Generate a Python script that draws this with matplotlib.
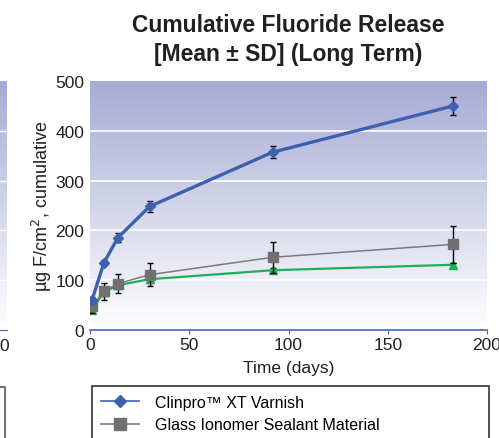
import matplotlib.pyplot as plt
import matplotlib.patches as mpatches
from matplotlib.lines import Line2D
import numpy as np

# data
days = [1, 7, 14, 30, 92, 183]
clinpro = [60, 135, 185, 248, 357, 450]
clinpro_sd = [6, 5, 9, 12, 12, 18]
glass = [48, 78, 93, 111, 146, 172]
glass_sd = [14, 17, 19, 23, 31, 37]
resin = [40, 76, 90, 102, 120, 131]
resin_sd = [5, 8, 6, 8, 5, 4]

series_labels = ["Clinpro\u2122 XT Varnish", "Glass Ionomer Sealant Material"]
title_lines = ["Cumulative Fluoride Release", "[Mean \u00b1 SD] (Long Term)"]

W, H = 499, 439
plt.rcParams['font.family'] = ["Liberation Sans", "DejaVu Sans"]
TXT = '#231f20'

fig = plt.figure(figsize=(W / 100, H / 100), dpi=100)


def px(x0, y0, x1, y1):
    # pixel box -> figure fraction rect
    return [x0 / W, 1 - y1 / H, (x1 - x0) / W, (y1 - y0) / H]


def gradient(ax):
    top = np.array([166, 171, 212]) / 255
    bot = np.array([255, 255, 255]) / 255
    t = np.linspace(0, 1, 256)[:, None]
    img = top * (1 - t[..., None]) + bot * t[..., None]
    img = np.repeat(img, 2, axis=1)
    ax.imshow(img, extent=[0, 1, 0, 1], transform=ax.transAxes,
              aspect='auto', zorder=0)


# partial neighbouring chart on the far left
axl = fig.add_axes(px(-60, 82, 7, 331))
gradient(axl)
axl.set_xlim(0, 1)
axl.set_ylim(0, 500)
for v in [100, 200, 300, 400]:
    axl.axhline(v, color='white', lw=1, zorder=1)
for s in ['top', 'right', 'left']:
    axl.spines[s].set_visible(False)
axl.spines['bottom'].set_color('#4a66b3')
axl.set_xticks([])
axl.set_yticks([])
fig.text(4.5 / W, 1 - 347 / H, "0", ha='center', va='center', fontsize=12.5,
         color=TXT)
fig.add_artist(mpatches.Rectangle((-20 / W, -0.1), 25 / W, 0.1 + (H - 388) / H,
                                  transform=fig.transFigure, fill=False,
                                  edgecolor='#555555', lw=1.2))

# main chart
ax = fig.add_axes(px(90, 82, 487, 331))
gradient(ax)
ax.set_xlim(0, 200)
ax.set_ylim(0, 500)
for v in [100, 200, 300, 400]:
    ax.axhline(v, color='white', lw=1.2, zorder=1)

ax.errorbar(days, resin, yerr=resin_sd, color='#1fae5a', lw=1.6, marker='^',
            ms=6, mfc='#1fae5a', mec='#1fae5a', ecolor='black', elinewidth=1,
            capsize=2.5, zorder=3)
ax.errorbar(days, glass, yerr=glass_sd, color='#7a7a7a', lw=1.1, marker='s',
            ms=7, mfc='#707070', mec='#707070', ecolor='black', elinewidth=1,
            capsize=2.5, zorder=4)
ax.errorbar(days, clinpro, yerr=clinpro_sd, color='#3f5fb0', lw=2.4, marker='D',
            ms=5.5, mfc='#3f5fb0', mec='#3f5fb0', ecolor='black', elinewidth=1,
            capsize=2.5, zorder=5)

for s in ['top', 'right', 'left']:
    ax.spines[s].set_visible(False)
ax.spines['bottom'].set_color('#4a66b3')
ax.spines['bottom'].set_linewidth(1.2)
ax.set_xticks([0, 50, 100, 150, 200])
ax.set_yticks([0, 100, 200, 300, 400, 500])
ax.tick_params(axis='x', length=3, color='#4a66b3', labelsize=12.5,
               labelcolor=TXT, pad=2)
ax.tick_params(axis='y', length=0, labelsize=12.5, labelcolor=TXT, pad=4)
ax.set_xlabel("Time (days)", fontsize=12.5, color=TXT, labelpad=6)
ax.set_ylabel("\u00b5g F/cm$^2$, cumulative", fontsize=13, color=TXT,
              labelpad=1)

cx = (90 + 487) / 2 / W
fig.text(cx, 1 - 25 / H, title_lines[0], ha='center', va='center',
         fontsize=16.5, fontweight='bold', color=TXT)
fig.text(cx, 1 - 55 / H, title_lines[1], ha='center', va='center',
         fontsize=16.5, fontweight='bold', color=TXT)

# legend box (runs off the bottom edge)
fig.add_artist(mpatches.Rectangle((92 / W, -0.1), (489 - 92) / W,
                                  0.1 + (H - 387) / H,
                                  transform=fig.transFigure, fill=False,
                                  edgecolor='#333333', lw=1.2))
handles = [
    Line2D([], [], color='#3f5fb0', lw=1.2, marker='D', ms=6,
           mfc='#3f5fb0', mec='#3f5fb0'),
    Line2D([], [], color='#7a7a7a', lw=1.2, marker='s', ms=8,
           mfc='#707070', mec='#707070'),
]
fig.legend(handles, series_labels, loc='upper left',
           bbox_to_anchor=(101 / W, 1 - 396 / H), frameon=False, fontsize=11.5,
           handlelength=2.4, handletextpad=1.0, labelspacing=0.45,
           borderpad=0.0, borderaxespad=0.0)

fig.savefig("out.png", dpi=100)
